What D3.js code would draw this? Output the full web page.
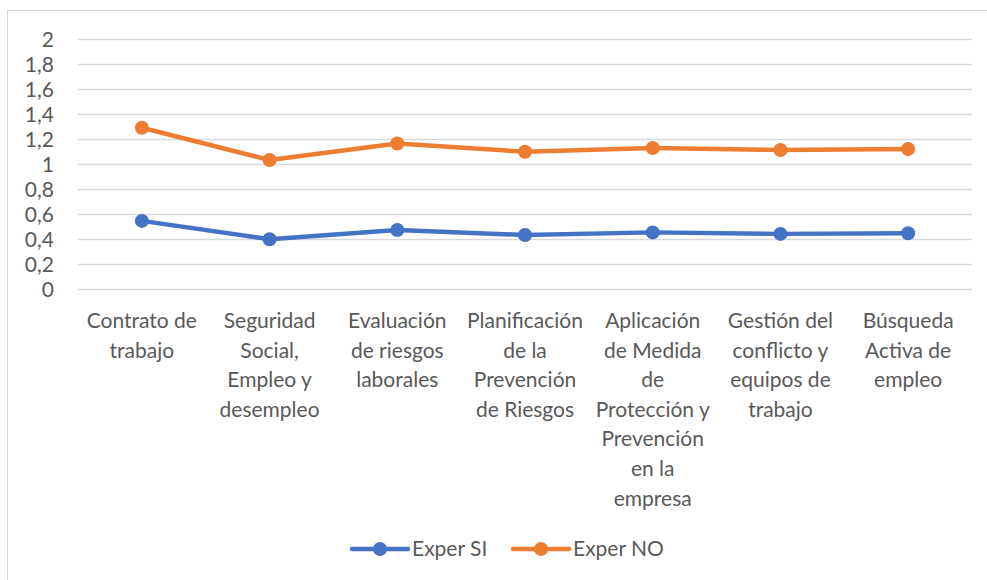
<!DOCTYPE html>
<html>
<head>
<meta charset="utf-8">
<script src="https://cdn.jsdelivr.net/npm/d3@7"></script>
<style>
  body { margin: 0; background: #fff; }
  svg text { font-family: Lato, "Liberation Sans", sans-serif; fill: #595959; }
</style>
</head>
<body>
<div id="chart"></div>
<script>
// Categories (line breaks as in the original)
const categories = [
    "Contrato de\ntrabajo",
    "Seguridad\nSocial,\nEmpleo y\ndesempleo",
    "Evaluación\nde riesgos\nlaborales",
    "Planificación\nde la\nPrevención\nde Riesgos",
    "Aplicación\nde Medida\nde\nProtección y\nPrevención\nen la\nempresa",
    "Gestión del\nconflicto y\nequipos de\ntrabajo",
    "Búsqueda\nActiva de\nempleo"
];
const experSI = [0.545, 0.398, 0.472, 0.432, 0.453, 0.441, 0.446];
const experNO = [1.29, 1.032, 1.164, 1.098, 1.128, 1.112, 1.12];
const seriesNames = ["Exper SI", "Exper NO"];
const seriesColors = ["#4472C4", "#ED7D31"];
const yTicks = [0, 0.2, 0.4, 0.6, 0.8, 1, 1.2, 1.4, 1.6, 1.8, 2];

const width = 987, height = 580;
const margin = { top: 39, right: 15, bottom: 291, left: 78 };
const innerWidth = width - margin.left - margin.right;
const innerHeight = height - margin.top - margin.bottom;
const fontSize = "21px";

const svg = d3.select("#chart").append("svg")
    .attr("width", width)
    .attr("height", height);

// chart border (right and bottom edges fall outside the picture)
svg.append("path")
    .attr("d", `M7.5,${height} V10.5 H${width}`)
    .attr("fill", "none")
    .attr("stroke", "#d9d9d9")
    .attr("stroke-width", 1);

const g = svg.append("g")
    .attr("transform", `translate(${margin.left},${margin.top})`);

const x = d3.scaleBand()
    .domain(d3.range(categories.length))
    .range([0, innerWidth]);

const y = d3.scaleLinear()
    .domain([0, 2])
    .range([innerHeight, 0]);

// Horizontal grid lines
g.append("g")
    .selectAll("line")
    .data(yTicks)
    .enter()
    .append("line")
    .attr("x1", 0)
    .attr("x2", innerWidth)
    .attr("y1", d => Math.round(y(d)) + 0.5)
    .attr("y2", d => Math.round(y(d)) + 0.5)
    .attr("stroke", "#d9d9d9")
    .attr("stroke-width", 1.5);

// Y-axis labels
const fmt = d => String(+d.toFixed(1)).replace(".", ",");
const yAxis = d3.axisLeft(y)
    .tickValues(yTicks)
    .tickFormat(fmt)
    .tickSize(0)
    .tickPadding(24);

g.append("g")
    .attr("font-family", null)
    .call(yAxis)
    .call(a => a.select(".domain").remove())
    .selectAll("text")
    .style("font-size", fontSize)
    .style("fill", "#595959")
    .attr("dy", "0.35em");

// X-axis labels, one text per line
const xLabels = g.append("g")
    .attr("transform", `translate(0,${innerHeight})`);

categories.forEach((c, i) => {
    xLabels.selectAll(".lbl" + i)
        .data(c.split("\n"))
        .enter()
        .append("text")
        .attr("x", x(i) + x.bandwidth() / 2)
        .attr("y", (d, j) => 39 + j * 29.6)
        .attr("text-anchor", "middle")
        .style("font-size", fontSize)
        .text(d => d);
});

// Lines and markers
const line = d3.line()
    .x((d, i) => x(i) + x.bandwidth() / 2)
    .y(d => y(d));

[experSI, experNO].forEach((vals, s) => {
    g.append("path")
        .datum(vals)
        .attr("d", line)
        .attr("fill", "none")
        .attr("stroke", seriesColors[s])
        .attr("stroke-width", 4.5)
        .attr("stroke-linejoin", "round")
        .attr("stroke-linecap", "round");

    g.selectAll(".pt" + s)
        .data(vals)
        .enter()
        .append("circle")
        .attr("cx", (d, i) => x(i) + x.bandwidth() / 2)
        .attr("cy", d => y(d))
        .attr("r", 7)
        .attr("fill", seriesColors[s]);
});

// Legend
const legend = svg.append("g")
    .attr("transform", "translate(352,549)");

const legendX = [0, 161];
seriesNames.forEach((name, s) => {
    const lg = legend.append("g")
        .attr("transform", `translate(${legendX[s]},0)`);
    lg.append("line")
        .attr("x1", 0)
        .attr("x2", 56)
        .attr("y1", 0)
        .attr("y2", 0)
        .attr("stroke", seriesColors[s])
        .attr("stroke-width", 4.5)
        .attr("stroke-linecap", "round");
    lg.append("circle")
        .attr("cx", 28)
        .attr("cy", 0)
        .attr("r", 7)
        .attr("fill", seriesColors[s]);
    lg.append("text")
        .attr("x", 60)
        .attr("y", 0)
        .attr("dy", "0.35em")
        .style("font-size", fontSize)
        .text(name);
});
</script>
</body>
</html>
